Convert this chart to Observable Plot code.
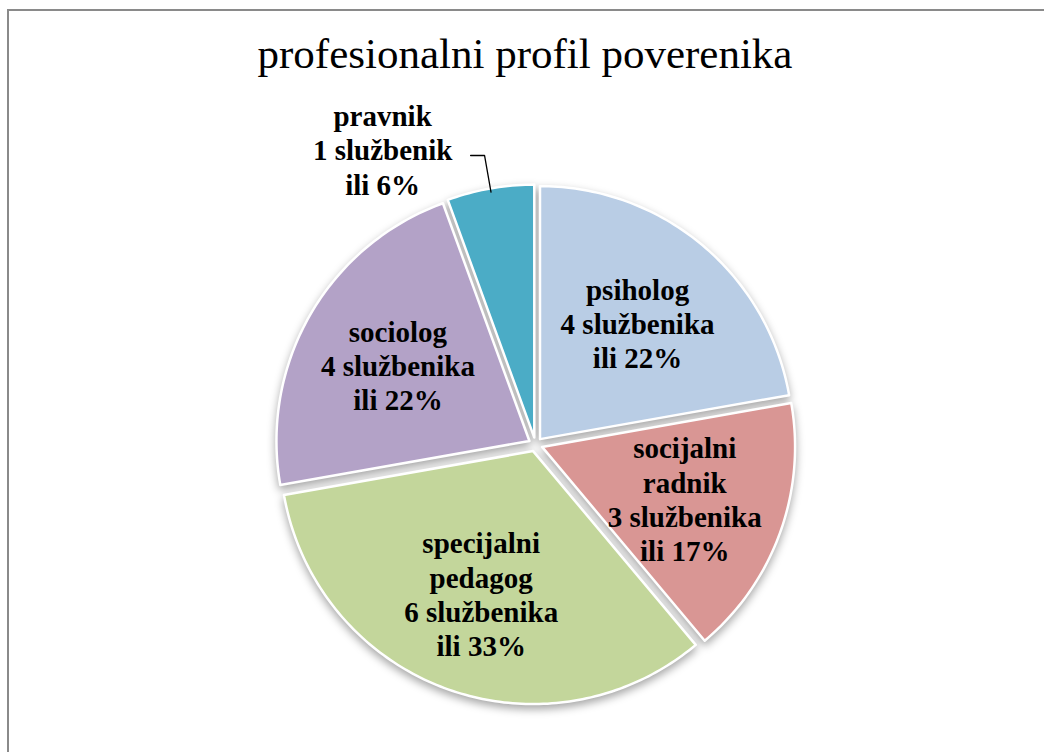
<!DOCTYPE html>
<html>
<head>
<meta charset="utf-8">
<script src="https://cdn.jsdelivr.net/npm/d3@7"></script>
<script src="https://cdn.jsdelivr.net/npm/@observablehq/plot@0.6"></script>
<style>
  html, body { margin: 0; padding: 0; background: #fff; overflow: hidden; width: 1044px; height: 752px; }
  #frame { position: absolute; left: 7px; top: 9px; width: 1100px; height: 800px; border-left: 2px solid #8a8a8a; border-top: 2px solid #8a8a8a; box-sizing: border-box; }
  #title { position: absolute; left: 0; top: 31px; width: 1050px; text-align: center; font-family: "Liberation Serif", "Times New Roman", serif; font-size: 43px; line-height: 46px; color: #000; }
  #chart { position: absolute; left: 0; top: 90px; }
</style>
</head>
<body>
<div id="frame"></div>
<div id="title">profesionalni profil poverenika</div>
<div id="chart"></div>
<script>
const categories = ["psiholog", "socijalni radnik", "specijalni pedagog", "sociolog", "pravnik"];
const counts = [4, 3, 6, 4, 1];
const colors = ["#B9CDE5", "#D99694", "#C3D69B", "#B3A2C7", "#4BACC6"];

const total = d3.sum(counts);
const explode = 7 / 253;
const arcs = d3.pie().sort(null).startAngle(0).endAngle(2 * Math.PI)(counts);

const pt = (a, r) => [r * Math.sin(a), r * Math.cos(a)];

const slicePts = [];
const labels = [];
const leader = [];
arcs.forEach((arc, i) => {
  const name = categories[i];
  const mid = (arc.startAngle + arc.endAngle) / 2;
  const [ox, oy] = pt(mid, explode);
  slicePts.push({name, x: ox, y: oy});
  const steps = Math.max(2, Math.ceil((arc.endAngle - arc.startAngle) / (Math.PI / 180)));
  for (let k = 0; k <= steps; k++) {
    const a = arc.startAngle + (arc.endAngle - arc.startAngle) * k / steps;
    const [px, py] = pt(a, 1);
    slicePts.push({name, x: px + ox, y: py + oy});
  }
  const v = counts[i];
  const pct = Math.round(v / total * 100);
  const unit = v === 1 ? "službenik" : "službenika";
  const text = `${name.replace(" ", "\n")}\n${v} ${unit}\nili ${pct}%`;
  const frac = v / total;
  if (frac < 0.1) {
    const p1 = pt(mid, 0.985);
    const p2 = pt(mid, 1.16);
    const p3 = [p2[0] - 0.055, p2[1]];
    leader.push({x: p1[0] + ox, y: p1[1] + oy}, {x: p2[0], y: p2[1]}, {x: p3[0], y: p3[1]});
    labels.push({name, text, x: p3[0], y: p3[1], outside: true});
  } else {
    const [lx, ly] = pt(mid, 0.6);
    labels.push({name, text, x: lx + ox, y: ly + oy, outside: false});
  }
});

const W = 1044, H = 662, R = 253, CX = 535, CY = 354;
const font = {fontFamily: "Liberation Serif", fontWeight: "bold", fontSize: 29, lineHeight: 1.18, fill: "black"};

const chart = Plot.plot({
  width: W,
  height: H,
  margin: 0,
  x: {domain: [-CX / R, (W - CX) / R], axis: null},
  y: {domain: [-(H - CY) / R, CY / R], axis: null},
  color: {domain: categories, range: colors},
  style: {background: "transparent", overflow: "visible"},
  marks: [
    Plot.line(slicePts, {x: "x", y: "y", z: "name", fill: "name", stroke: "white", strokeWidth: 2.5, curve: "linear-closed"}),
    Plot.line(leader, {x: "x", y: "y", stroke: "black", strokeWidth: 1.3}),
    Plot.text(labels.filter(d => !d.outside), {x: "x", y: "y", text: "text", ...font}),
    Plot.text(labels.filter(d => d.outside), {x: "x", y: "y", text: "text", dx: -88, dy: -6, ...font})
  ]
});
document.getElementById("chart").appendChild(chart);
const g = chart.querySelector('g[aria-label="line"]');
if (g) g.style.filter = "drop-shadow(0px 4px 4px rgba(0,0,0,0.35))";
</script>
</body>
</html>
